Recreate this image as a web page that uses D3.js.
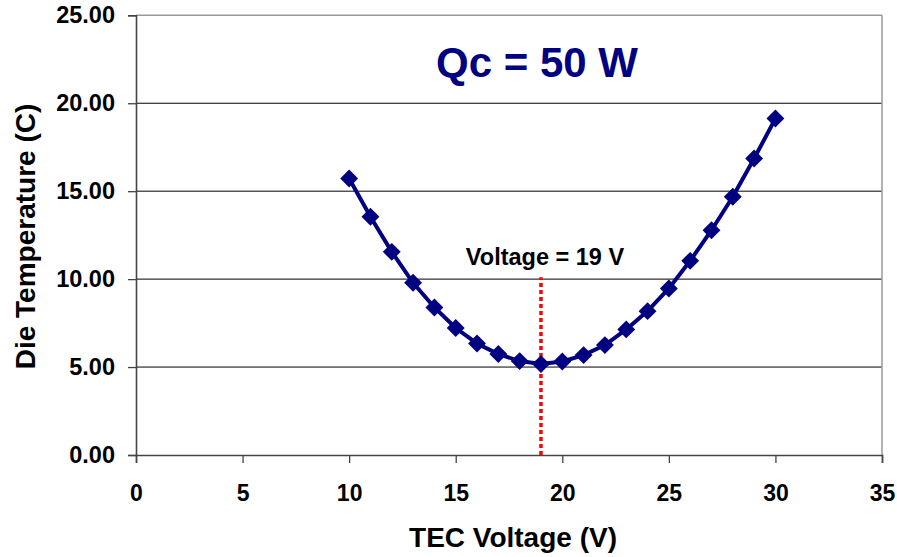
<!DOCTYPE html>
<html><head><meta charset="utf-8">
<script src="https://cdn.jsdelivr.net/npm/d3@7"></script>
<style>body{margin:0;background:#fff}svg{display:block;font-family:"Liberation Sans",Arial,sans-serif}</style>
</head><body><svg id="c" width="897" height="557"></svg>
<script>
const voltage = [10,11,12,13,14,15,16,17,18,19,20,21,22,23,24,25,26,27,28,29,30];
const dieTemp = [15.72,13.55,11.55,9.79,8.39,7.22,6.34,5.74,5.34,5.17,5.32,5.68,6.25,7.14,8.18,9.47,11.04,12.78,14.68,16.86,19.13];
const xTicks = [0,5,10,15,20,25,30,35];
const yTicks = [0,5,10,15,20,25];
const optVoltage = [19];
const optLineTop = [10.1];
const titleText = "Qc = 50 W";
const markerText = "Voltage = 19 V";

const FONT = "'Liberation Sans',Arial,sans-serif";
const svg = d3.select("#c");
const L=136,R=882,T=15.3,B=455;
const x = d3.scaleLinear().domain([0,35]).range([L,R]);
const y = d3.scaleLinear().domain([0,25]).range([B,T]);

// gridlines
svg.append("g").selectAll("line").data(yTicks.filter(d=>d>0&&d<25)).join("line")
 .attr("x1",L).attr("x2",R).attr("y1",d=>y(d)).attr("y2",d=>y(d))
 .attr("stroke","#000").attr("stroke-width",1);
// frame top/right
svg.append("line").attr("x1",L).attr("x2",R).attr("y1",y(25)).attr("y2",y(25)).attr("stroke","#999").attr("stroke-width",1.5);
svg.append("line").attr("x1",R).attr("x2",R).attr("y1",y(25)).attr("y2",B).attr("stroke","#999").attr("stroke-width",1.5);

// axes
const yAxis = svg.append("g").attr("transform",`translate(${L},0)`)
 .call(d3.axisLeft(y).tickValues(yTicks).tickFormat(d3.format(".2f")).tickSize(8).tickPadding(13));
const xAxis = svg.append("g").attr("transform",`translate(0,${B})`)
 .call(d3.axisBottom(x).tickValues(xTicks).tickSize(8).tickPadding(22));
[yAxis,xAxis].forEach(a=>{
  a.select(".domain").attr("stroke","#444").attr("stroke-width",1.6);
  a.selectAll(".tick line").attr("stroke","#444").attr("stroke-width",1.3);
  a.selectAll("text").attr("font-weight","bold").attr("fill","#000")
   .attr("font-family",FONT);
});
yAxis.selectAll("text").attr("font-size",23.5);
xAxis.selectAll("text").attr("font-size",23);

// red dotted line
svg.append("g").selectAll("line").data(optVoltage).join("line")
 .attr("x1",d=>x(d)).attr("x2",d=>x(d)).attr("y1",y(0)).attr("y2",(d,i)=>y(optLineTop[i]))
 .attr("stroke","#ff0000").attr("stroke-width",3.5).attr("stroke-dasharray","4,3");

// series line
const pts = voltage.map((v,i)=>[v,dieTemp[i]]);
svg.append("path").datum(pts)
 .attr("fill","none").attr("stroke","#000080").attr("stroke-width",4)
 .attr("d",d3.line().x(d=>x(d[0])).y(d=>y(d[1])));
// markers (diamonds)
svg.append("g").selectAll("path").data(pts).join("path")
 .attr("d",d3.symbol(d3.symbolSquare,160)())
 .attr("transform",d=>`translate(${x(d[0])},${y(d[1])}) rotate(45)`)
 .attr("fill","#000080");

// texts
svg.append("text").attr("x",537).attr("y",77).attr("text-anchor","middle")
 .attr("font-size",42).attr("font-weight","bold").attr("fill","#000080").text(titleText);
svg.append("text").attr("x",545).attr("y",265).attr("text-anchor","middle")
 .attr("font-size",23.5).attr("font-weight","bold").attr("fill","#000").text(markerText);
svg.append("text").attr("x",513).attr("y",547).attr("text-anchor","middle")
 .attr("font-size",28).attr("font-weight","bold").text("TEC Voltage (V)");
svg.append("text").attr("transform","translate(34.5,236.5) rotate(-90)").attr("text-anchor","middle")
 .attr("font-size",28).attr("font-weight","bold").text("Die Temperature (C)");
</script></body></html>
